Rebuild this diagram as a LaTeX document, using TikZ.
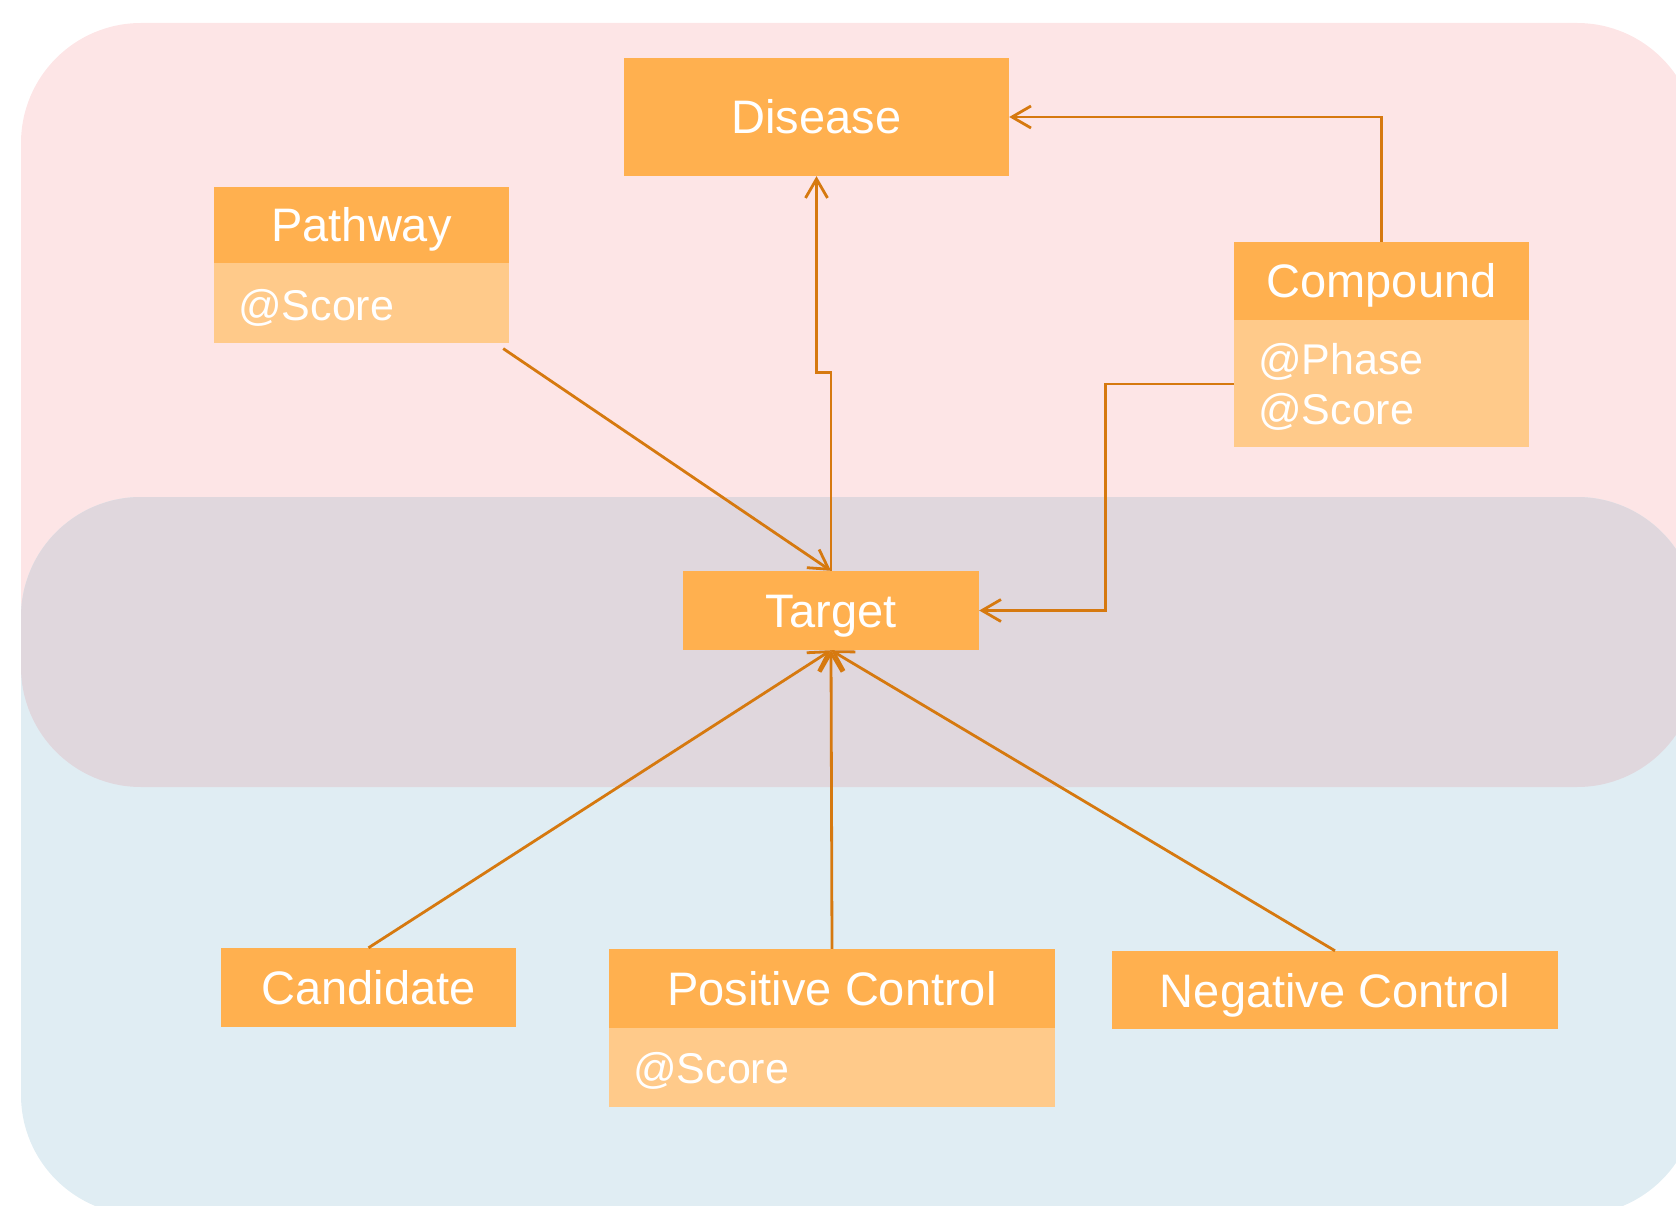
\documentclass[tikz,border=0pt]{standalone}
\usepackage{fontspec}
\setmainfont{Liberation Sans}
\usetikzlibrary{arrows.meta}
\definecolor{pinkbg}{HTML}{FDE5E6}
\definecolor{graybg}{HTML}{E0D7DD}
\definecolor{bluebg}{HTML}{E0EDF3}
\definecolor{hdrc}{HTML}{FFB04F}
\definecolor{bodyc}{HTML}{FFCA8A}
\definecolor{linec}{HTML}{D6790F}
\begin{document}
\begin{tikzpicture}[x=1pt,y=-1pt,
  hdr/.style={fill=hdrc, text=white, inner sep=0pt, font=\fontsize{47}{56}\selectfont, text height=34pt, text depth=0pt},
  bodybox/.style={fill=bodyc, inner sep=0pt},
  attr/.style={text=white, inner sep=0pt, anchor=base west, font=\fontsize{43}{51}\selectfont},
  conn/.style={draw=linec, line width=2.8pt, -{Straight Barb[length=19pt,width=22pt]}}]
\useasboundingbox (0,0) rectangle (1676,1206);
\begin{scope}
\clip (0,0) rectangle (1676,1206);
\fill[pinkbg, rounded corners=120pt] (21,23) rectangle (1697,787);
\fill[bluebg, rounded corners=120pt] (21,497) rectangle (1697,1215);
\fill[graybg, rounded corners=120pt] (21,497) rectangle (1697,787);
\end{scope}

\node[hdr, minimum width=385pt, minimum height=118pt] (disease) at (816.5,117) {Disease};
\node[hdr, minimum width=295pt, minimum height=76pt] (pathway) at (361.5,225) {Pathway};
\node[bodybox, minimum width=295pt, minimum height=80pt, anchor=north] (pathwayb) at (pathway.south) {};
\node[attr] (pathwayat) at (238,320) {@Score};
\node[hdr, minimum width=295pt, minimum height=78pt] (compound) at (1381.5,281) {Compound};
\node[bodybox, minimum width=295pt, minimum height=127pt, anchor=north] (compoundb) at (compound.south) {};
\node[attr] (phase) at (1258,374) {@Phase};
\node[attr] (cscore) at (1258,424) {@Score};
\node[hdr, minimum width=296pt, minimum height=79pt] (target) at (831,610.5) {Target};
\node[hdr, minimum width=295pt, minimum height=79pt] (cand) at (368.5,987.5) {Candidate};
\node[hdr, minimum width=446pt, minimum height=79pt] (pos) at (832,988.5) {Positive Control};
\node[bodybox, minimum width=446pt, minimum height=79pt, anchor=north] (posb) at (pos.south) {};
\node[attr] (posat) at (633,1083) {@Score};
\node[hdr, minimum width=446pt, minimum height=78pt] (neg) at (1335,990) {Negative Control};

\draw[conn] (compound.north) |- (disease.east);
\draw[conn] (target.north) -- ++(0,-198) -| (disease.south);
\draw[conn] ([shift={(-6,5)}]pathwayb.south east) -- (target.north);
\draw[conn] (compoundb.west) -- ++(-128,0) |- (target.east);
\draw[conn] (cand.north) -- (target.south);
\draw[conn] (pos.north) -- (target.south);
\draw[conn] (neg.north) -- (target.south);
\end{tikzpicture}
\end{document}
